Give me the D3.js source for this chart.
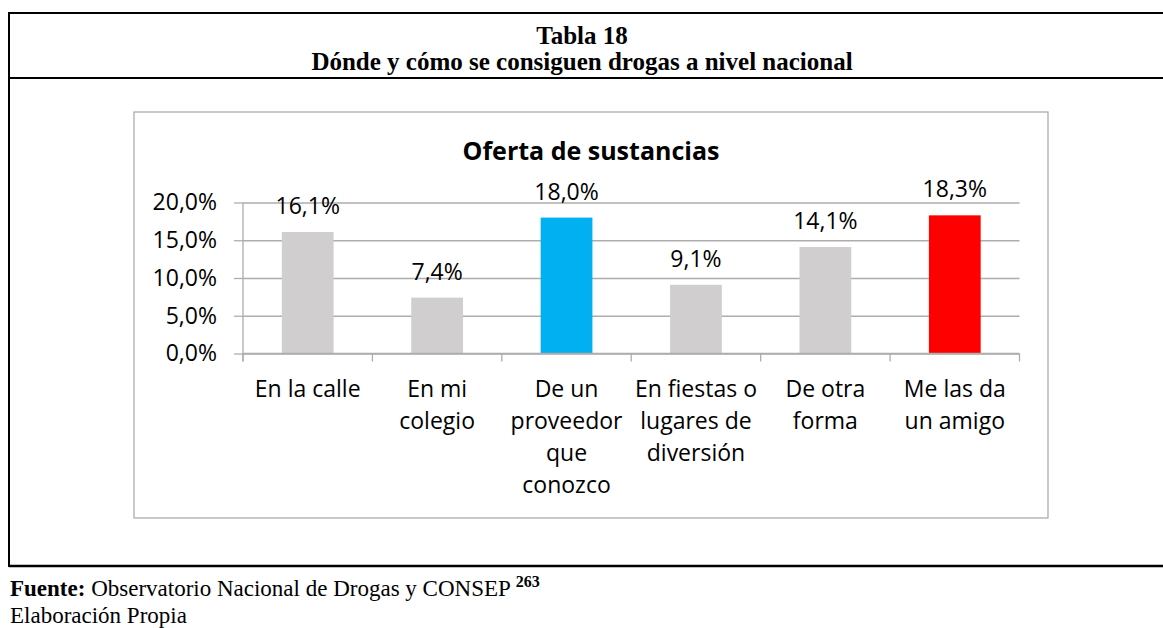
<!DOCTYPE html>
<html>
<head>
<meta charset="utf-8">
<script src="https://cdn.jsdelivr.net/npm/d3@7"></script>
<style>
  html, body { margin: 0; padding: 0; background: #fff; }
  svg { display: block; }
</style>
</head>
<body>
<svg id="chart" width="1163" height="628"></svg>
<script>
// ---- data ----
const categories = ["En la calle", "En mi colegio", "De un proveedor que conozco", "En fiestas o lugares de diversión", "De otra forma", "Me las da un amigo"];
const categoryLines = [["En la calle"], ["En mi", "colegio"], ["De un", "proveedor", "que", "conozco"], ["En fiestas o", "lugares de", "diversión"], ["De otra", "forma"], ["Me las da", "un amigo"]];
const values = [16.1, 7.4, 18.0, 9.1, 14.1, 18.3];
const barColors = ["#d0cece", "#d0cece", "#00b0f0", "#d0cece", "#d0cece", "#ff0000"];
const yTicks = [0, 5, 10, 15, 20];
const tableTitle = ["Tabla 18", "Dónde y cómo se consiguen drogas a nivel nacional"];
const chartTitle = "Oferta de sustancias";
const sourceLabel = "Fuente:";
const sourceText = " Observatorio Nacional de Drogas y CONSEP ";
const sourceNote = "263";
const authorText = "Elaboración Propia";

// ---- layout ----
const svg = d3.select("#chart");
const serif = "'Liberation Serif', 'Times New Roman', serif";
const sans = "'Open Sans', sans-serif";
const fmt = v => v.toFixed(1).replace(".", ",") + "%";

// outer table borders
const tbl = svg.append("g");
tbl.append("line").attr("x1", 9).attr("x2", 1163).attr("y1", 13).attr("y2", 13).attr("stroke", "#000").attr("stroke-width", 2);
tbl.append("line").attr("x1", 9).attr("x2", 1163).attr("y1", 78).attr("y2", 78).attr("stroke", "#000").attr("stroke-width", 2);
tbl.append("line").attr("x1", 9).attr("x2", 1163).attr("y1", 566).attr("y2", 566).attr("stroke", "#000").attr("stroke-width", 2.5);
tbl.append("line").attr("x1", 9).attr("x2", 9).attr("y1", 12).attr("y2", 567).attr("stroke", "#000").attr("stroke-width", 2);

tbl.selectAll("text.tt").data(tableTitle).join("text")
  .attr("class", "tt")
  .attr("x", 582).attr("y", (d, i) => 44 + i * 26)
  .attr("text-anchor", "middle")
  .attr("font-family", serif).attr("font-weight", "bold").attr("font-size", 25)
  .attr("fill", "#000").text(d => d);

// footer
const f1 = tbl.append("text").attr("x", 10).attr("y", 596)
  .attr("font-family", serif).attr("font-size", 23).attr("fill", "#000");
f1.append("tspan").attr("font-weight", "bold").text(sourceLabel);
f1.append("tspan").text(sourceText);
f1.append("tspan").attr("font-weight", "bold").attr("font-size", 16).attr("dy", -9).text(sourceNote);
tbl.append("text").attr("x", 10).attr("y", 623)
  .attr("font-family", serif).attr("font-size", 23).attr("fill", "#000").text(authorText);

// chart frame
svg.append("rect").attr("x", 134).attr("y", 112).attr("width", 914).attr("height", 406)
  .attr("fill", "#fff").attr("stroke", "#a6a6a6").attr("stroke-width", 1.2);

svg.append("text").attr("x", 591).attr("y", 160)
  .attr("text-anchor", "middle").attr("font-family", sans).attr("font-weight", "bold")
  .attr("font-size", 25).attr("fill", "#000").text(chartTitle);

// scales
const x = d3.scaleBand().domain(categories).range([243, 1019.5]).paddingInner(0.6).paddingOuter(0.3);
const y = d3.scaleLinear().domain([0, 20]).range([353.5, 202.5]);

const plot = svg.append("g");

// gridlines
plot.append("g").attr("transform", "translate(243,0)")
  .call(d3.axisLeft(y).tickValues(yTicks).tickSize(-(1019.5 - 243)).tickFormat(""))
  .call(g => g.select(".domain").remove())
  .call(g => g.selectAll(".tick line").attr("stroke", "#adadad").attr("stroke-width", 1.3));

// y axis
plot.append("g").attr("transform", "translate(243,0)")
  .call(d3.axisLeft(y).tickValues(yTicks).tickSize(9).tickPadding(17).tickFormat(fmt))
  .call(g => g.select(".domain").remove())
  .call(g => g.selectAll(".tick line").attr("stroke", "#adadad").attr("stroke-width", 1.3))
  .call(g => g.selectAll(".tick text").attr("font-family", sans).attr("font-size", 23).attr("fill", "#000"));
plot.append("line").attr("x1", 243).attr("x2", 243).attr("y1", y(20)).attr("y2", y(0) + 8)
  .attr("stroke", "#adadad").attr("stroke-width", 1.3);

// bars
plot.selectAll("rect.bar").data(values).join("rect")
  .attr("class", "bar")
  .attr("x", (d, i) => x(categories[i]))
  .attr("width", x.bandwidth())
  .attr("y", d => y(d))
  .attr("height", d => y(0) - y(d))
  .attr("fill", (d, i) => barColors[i]);

// x axis
plot.append("line").attr("x1", 243).attr("x2", 1019.5).attr("y1", y(0)).attr("y2", y(0))
  .attr("stroke", "#adadad").attr("stroke-width", 1.3);
const step = x.step();
const bounds = d3.range(categories.length + 1).map(i => x(categories[0]) - step * 0.3 + i * step);
plot.selectAll("line.xt").data(bounds).join("line")
  .attr("class", "xt")
  .attr("x1", d => d).attr("x2", d => d)
  .attr("y1", y(0)).attr("y2", y(0) + 8)
  .attr("stroke", "#adadad").attr("stroke-width", 1.3);

// data labels
plot.selectAll("text.dl").data(values).join("text")
  .attr("class", "dl")
  .attr("x", (d, i) => x(categories[i]) + x.bandwidth() / 2)
  .attr("y", d => y(d) - 18)
  .attr("text-anchor", "middle")
  .attr("font-family", sans).attr("font-size", 23).attr("fill", "#000")
  .text(fmt);

// category labels
const cl = plot.selectAll("text.cl").data(categoryLines).join("text")
  .attr("class", "cl")
  .attr("text-anchor", "middle")
  .attr("font-family", sans).attr("font-size", 23).attr("fill", "#000");
cl.each(function(lines, i) {
  const cx = x(categories[i]) + x.bandwidth() / 2;
  d3.select(this).selectAll("tspan").data(lines).join("tspan")
    .attr("x", cx).attr("y", (d, j) => 397 + j * 32).text(d => d);
});
</script>
</body>
</html>
